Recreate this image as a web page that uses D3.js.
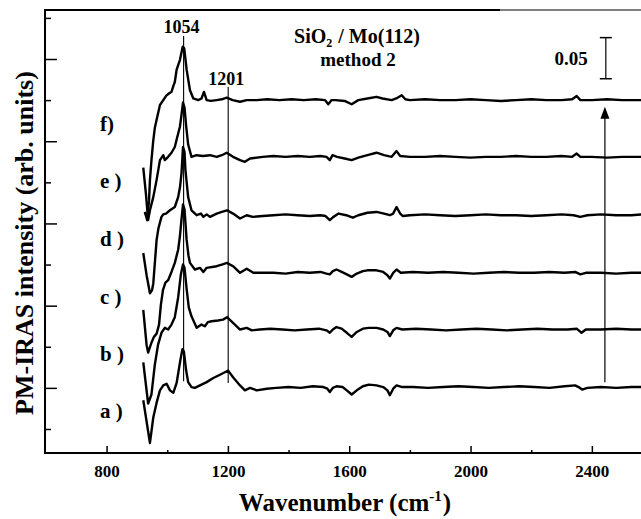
<!DOCTYPE html>
<html><head><meta charset="utf-8">
<script src="https://cdn.jsdelivr.net/npm/d3@7"></script>
<style>
html,body{margin:0;padding:0;background:#fff;}
svg text{font-family:"Liberation Serif","Times New Roman",serif;font-weight:bold;fill:#000;}
</style></head>
<body><svg id="chart" width="641" height="519"></svg>
<script>
// ---- data (wavenumber cm-1, PM-IRAS intensity relative to each trace's baseline) ----
const specA = [[921,-0.016],[943,-0.068],[954,-0.037],[965,-0.019],[976,-0.004],[987,0.002],[998,0.004],[1009,-0.004],[1020,-0.007],[1031,0.005],[1042,0.030],[1050,0.046],[1055,0.043],[1062,0.021],[1069,0.006],[1080,0.000],[1091,-0.001],[1108,0.002],[1130,0.006],[1152,0.011],[1174,0.015],[1190,0.018],[1201,0.020],[1217,0.012],[1240,0.002],[1256,-0.004],[1273,-0.001],[1295,-0.004],[1328,-0.002],
[1360,-0.001],[1400,0.000],[1440,-0.001],[1480,0.001],[1515,0.000],[1528,-0.002],[1536,-0.006],[1546,-0.001],[1558,0.001],[1578,0.000],[1592,-0.004],[1608,-0.009],[1625,-0.004],[1645,0.001],[1665,0.003],[1690,0.002],[1712,0.000],[1726,-0.004],[1734,-0.010],[1745,-0.002],[1756,0.002],[1775,0.000],[1810,0.000],[1860,-0.001],[1910,0.000],[1960,0.001],[2010,0.000],[2060,-0.001],[2110,0.000],[2160,0.001],[2210,0.000],[2260,-0.001],[2310,0.001],[2345,0.002],[2356,0.000],[2368,-0.003],[2385,-0.001],[2430,0.000],[2480,-0.001],[2530,0.000],[2570,0.000]];
const specB = [[921,-0.040],[937,-0.090],[948,-0.079],[959,-0.043],[970,-0.018],[981,-0.004],[992,0.002],[1003,0.000],[1014,0.006],[1025,0.015],[1036,0.039],[1045,0.067],[1052,0.079],[1057,0.075],[1064,0.049],[1071,0.027],[1080,0.016],[1097,0.002],[1113,0.006],[1124,0.004],[1134,0.009],[1146,0.010],[1167,0.011],[1184,0.012],[1197,0.015],[1217,0.008],[1240,0.000],[1262,0.002],[1279,-0.001],[1305,0.000],
[1340,0.001],[1380,0.000],[1420,-0.001],[1460,0.000],[1500,0.001],[1525,-0.001],[1536,-0.004],[1546,0.000],[1558,0.003],[1575,0.001],[1592,-0.004],[1608,-0.009],[1625,-0.003],[1645,0.001],[1665,0.002],[1690,0.002],[1712,0.000],[1726,-0.003],[1734,-0.008],[1745,-0.001],[1756,0.002],[1775,0.000],[1820,0.001],[1870,0.000],[1920,-0.001],[1970,0.000],[2020,0.001],[2070,0.000],[2120,-0.001],[2170,0.000],[2220,0.001],[2270,0.000],[2320,0.000],[2350,0.001],[2366,-0.004],[2380,0.000],[2430,0.000],[2480,0.001],[2530,0.000],[2570,0.000]];
const specC = [[921,-0.045],[932,-0.088],[937,-0.097],[948,-0.085],[956,-0.078],[965,-0.074],[973,-0.063],[979,-0.039],[986,-0.021],[994,-0.012],[1003,-0.009],[1014,0.001],[1025,0.012],[1036,0.028],[1042,0.045],[1047,0.065],[1052,0.083],[1057,0.077],[1064,0.040],[1070,0.021],[1075,0.012],[1091,0.004],[1108,0.006],[1119,0.001],[1130,0.006],[1163,0.008],[1180,0.010],[1197,0.012],[1217,0.008],[1240,0.000],[1262,0.005],[1284,0.000],[1315,0.000],
[1350,0.000],[1390,-0.001],[1430,0.001],[1470,0.000],[1505,0.001],[1525,-0.001],[1536,-0.002],[1546,0.002],[1558,0.004],[1575,0.001],[1592,-0.002],[1608,-0.005],[1625,-0.001],[1645,0.002],[1660,0.003],[1690,0.003],[1712,0.001],[1726,-0.003],[1734,-0.007],[1745,0.000],[1756,0.004],[1770,0.000],[1810,0.001],[1860,0.000],[1910,0.001],[1960,0.000],[2010,-0.001],[2060,0.000],[2110,0.001],[2160,0.000],[2210,0.000],[2260,0.001],[2310,0.000],[2345,0.001],[2362,-0.002],[2380,0.000],[2430,0.000],[2480,-0.001],[2530,0.000],[2570,0.000]];
const specD = [[921,-0.046],[932,-0.073],[943,-0.095],[950,-0.091],[954,-0.083],[965,-0.030],[971,-0.016],[981,-0.002],[987,0.001],[996,0.002],[1009,0.006],[1025,0.010],[1036,0.022],[1042,0.034],[1047,0.051],[1052,0.083],[1057,0.077],[1060,0.055],[1069,0.022],[1080,0.006],[1097,0.000],[1111,0.002],[1119,-0.002],[1130,0.001],[1141,-0.002],[1163,0.002],[1180,0.004],[1197,0.006],[1217,0.002],[1240,-0.004],[1262,0.000],[1282,-0.002],[1315,-0.001],
[1350,0.000],[1390,0.001],[1430,0.000],[1470,-0.001],[1505,0.000],[1522,-0.001],[1536,-0.006],[1548,-0.002],[1565,0.002],[1590,0.000],[1612,-0.003],[1630,0.000],[1660,0.003],[1690,0.004],[1715,0.002],[1734,0.000],[1745,0.002],[1756,0.010],[1768,0.002],[1777,-0.001],[1800,0.000],[1850,0.001],[1900,0.000],[1950,-0.001],[2000,0.000],[2050,0.001],[2100,0.000],[2150,0.000],[2200,-0.001],[2250,0.000],[2300,0.001],[2340,0.000],[2362,-0.002],[2385,0.000],[2430,0.001],[2480,0.000],[2530,0.000],[2570,0.001]];
const specE = [[921,-0.013],[930,-0.046],[937,-0.077],[943,-0.065],[954,-0.049],[965,-0.028],[976,-0.004],[987,0.002],[992,-0.004],[1003,0.000],[1014,0.005],[1025,0.012],[1031,0.021],[1042,0.037],[1047,0.051],[1052,0.066],[1057,0.060],[1062,0.039],[1069,0.015],[1080,0.000],[1097,0.002],[1118,0.001],[1141,0.002],[1163,0.000],[1180,0.002],[1196,0.005],[1217,0.000],[1240,-0.004],[1256,-0.006],[1273,-0.002],[1315,0.000],
[1350,0.001],[1390,0.000],[1430,0.001],[1470,0.000],[1505,0.001],[1525,0.000],[1536,-0.004],[1545,0.002],[1560,0.000],[1585,-0.002],[1608,-0.004],[1630,-0.001],[1660,0.002],[1690,0.005],[1715,0.002],[1740,0.000],[1756,0.007],[1768,0.001],[1800,0.000],[1850,0.000],[1900,0.001],[1950,0.000],[2000,-0.001],[2050,0.000],[2100,0.000],[2150,0.001],[2200,0.000],[2250,0.000],[2300,0.001],[2335,0.000],[2350,0.004],[2362,0.000],[2400,0.000],[2450,-0.001],[2500,0.000],[2570,0.000]];
const specF = [[926,-0.136],[934,-0.146],[940,-0.122],[943,-0.097],[948,-0.073],[954,-0.049],[959,-0.034],[965,-0.024],[976,-0.006],[987,0.000],[998,0.006],[1009,0.009],[1014,0.010],[1020,0.017],[1025,0.022],[1031,0.037],[1042,0.049],[1051,0.065],[1056,0.063],[1064,0.037],[1075,0.012],[1086,0.002],[1102,0.000],[1113,0.002],[1121,0.010],[1130,0.000],[1144,-0.001],[1163,0.000],[1180,0.001],[1196,0.003],[1216,0.000],[1240,-0.002],[1262,0.000],[1295,0.000],
[1330,0.001],[1370,0.000],[1410,0.001],[1450,0.000],[1490,0.001],[1520,0.000],[1531,-0.005],[1542,0.000],[1555,0.000],[1585,-0.001],[1608,-0.005],[1630,0.000],[1660,0.002],[1690,0.004],[1710,0.002],[1740,0.000],[1755,0.002],[1773,0.006],[1785,0.001],[1800,0.000],[1850,0.001],[1900,0.000],[1950,0.000],[2000,0.001],[2050,0.000],[2100,-0.001],[2150,0.000],[2200,0.001],[2250,0.000],[2300,0.000],[2335,0.001],[2350,0.005],[2362,0.000],[2400,0.000],[2450,0.001],[2500,0.000],[2570,0.000]];
const spectra = [specA, specB, specC, specD, specE, specF];
const offsets = [0.101, 0.171, 0.240, 0.310, 0.381, 0.450];
const traceLabels = ["a )", "b )", "c )", "d )", "e )", "f)"];
const xMajorTicks = [800, 1200, 1600, 2000, 2400];
const xMinorTicks = [1000, 1400, 1800, 2200];
const yMajorTicks = [0.1, 0.2, 0.3, 0.4, 0.5];
const yMinorTicks = [0.05, 0.15, 0.25, 0.35, 0.45, 0.55];
const peakMarks = [{wn:1054, label:"1054", top:0.528}, {wn:1201, label:"1201", top:0.466}];
const peakMarkBottom = [0.108, 0.106];
const scaleBar = {wn:2446, from:0.476, to:0.526, label:"0.05"};
const arrowMark = {wn:2443, from:0.107, to:0.442};
const titleParts = [["SiO", "2", " / Mo(112)"], "method 2"];
const xTitleParts = ["Wavenumber (cm", "-1", ")"];
const yTitle = "PM-IRAS intensity  (arb. units)";

// ---- scales ----
const svg = d3.select("#chart");
const x = d3.scaleLinear().domain([597, 2562]).range([45, 641]);
const y = d3.scaleLinear().domain([0.0208, 0.5596]).range([453, 10]);

// ---- axes ----
const gx = svg.append("g").attr("transform","translate(0,453)");
gx.call(d3.axisBottom(x).tickValues(xMajorTicks).tickSize(-7).tickPadding(12).tickFormat(d3.format("d")));
gx.append("g").call(d3.axisBottom(x).tickValues(xMinorTicks).tickSize(-3).tickFormat(""));
gx.selectAll(".domain").remove();
gx.selectAll("line").attr("stroke","#000").attr("stroke-width",1.5);
gx.selectAll("text").style("font-size","17px").attr("font-family",null).attr("fill","#000");

const gy = svg.append("g").attr("transform","translate(45,0)");
gy.call(d3.axisLeft(y).tickValues(yMajorTicks).tickSize(-12).tickFormat(""));
gy.append("g").call(d3.axisLeft(y).tickValues(yMinorTicks).tickSize(-6).tickFormat(""));
gy.selectAll(".domain").remove();
gy.selectAll("line").attr("stroke","#000").attr("stroke-width",1.5);

// frame (left, bottom, top)
svg.append("line").attr("x1",45).attr("x2",45).attr("y1",y.range()[1]).attr("y2",y.range()[0]).attr("stroke","#000").attr("stroke-width",2);
svg.append("line").attr("x1",44).attr("x2",x.range()[1]).attr("y1",453).attr("y2",453).attr("stroke","#000").attr("stroke-width",2);
svg.append("line").attr("x1",44).attr("x2",500).attr("y1",10).attr("y2",10).attr("stroke","#000").attr("stroke-width",2);
svg.append("line").attr("x1",500).attr("x2",x.range()[1]).attr("y1",10).attr("y2",10).attr("stroke","#000").attr("stroke-width",1);

// ---- peak guide lines ----
peakMarks.forEach((p,i)=>{
  svg.append("line").attr("x1",x(p.wn)).attr("x2",x(p.wn)).attr("y1",y(p.top)).attr("y2",y(peakMarkBottom[i]))
     .attr("stroke","#000").attr("stroke-width",1.1);
});

// ---- spectra ----
const line = d3.line().x(d=>x(d[0])).y(d=>y(d[1]));
spectra.forEach((s,i)=>{
  svg.append("path").datum(s.map(d=>[d[0], d[1]+offsets[i]]))
    .attr("d", line).attr("fill","none").attr("stroke","#000")
    .attr("stroke-width",2.4).attr("stroke-linejoin","round");
  svg.append("text").attr("x",100).attr("y",y(offsets[i])+31).style("font-size","21px").text(traceLabels[i]);
});

// ---- helper: text with sub/superscript as separate, non-overlapping pieces ----
function scriptText(cx, baseline, parts, size, smallSize, shift){
  const g = svg.append("g");
  let cursor = 0;
  parts.forEach((t,k)=>{
    const small = (k===1);
    const el = g.append("text").attr("x",cursor).attr("y", small ? shift : 0)
      .style("font-size", (small?smallSize:size)+"px").style("white-space","pre").attr("xml:space","preserve").text(t);
    cursor += el.node().getComputedTextLength() + (small?1:0);
  });
  g.attr("transform",`translate(${cx - cursor/2},${baseline})`);
  return g;
}

// ---- annotations ----
svg.append("text").attr("x",x(1054)-2).attr("y",33).attr("text-anchor","middle").style("font-size","18px").text(peakMarks[0].label);
svg.append("text").attr("x",x(1201)-2).attr("y",85).attr("text-anchor","middle").style("font-size","18px").text(peakMarks[1].label);

scriptText(357, 43, titleParts[0], 20, 12, 4);
svg.append("text").attr("x",358).attr("y",66).attr("text-anchor","middle").style("font-size","19px").text(titleParts[1]);

// scale bar
const sbx = x(scaleBar.wn);
svg.append("line").attr("x1",sbx).attr("x2",sbx).attr("y1",y(scaleBar.to)).attr("y2",y(scaleBar.from)).attr("stroke","#000").attr("stroke-width",1.2);
[scaleBar.to, scaleBar.from].forEach(v=>{
  svg.append("line").attr("x1",sbx-6).attr("x2",sbx+6).attr("y1",y(v)).attr("y2",y(v)).attr("stroke","#000").attr("stroke-width",1.5);
});
svg.append("text").attr("x",sbx-18).attr("y",65).attr("text-anchor","end").style("font-size","19px").text(scaleBar.label);

// arrow
const ax = x(arrowMark.wn);
svg.append("line").attr("x1",ax).attr("x2",ax).attr("y1",y(arrowMark.from)).attr("y2",y(arrowMark.to)+8).attr("stroke","#000").attr("stroke-width",1.2);
svg.append("path").attr("d",`M${ax},${y(arrowMark.to)} L${ax-4.5},${y(arrowMark.to)+12} L${ax+4.5},${y(arrowMark.to)+12} Z`).attr("fill","#000");

// ---- axis titles ----
scriptText(345, 511, xTitleParts, 25, 15, -10);
svg.append("text").attr("transform","translate(33,243) rotate(-90)").attr("text-anchor","middle").style("font-size","26px").text(yTitle);
</script>
</body></html>
